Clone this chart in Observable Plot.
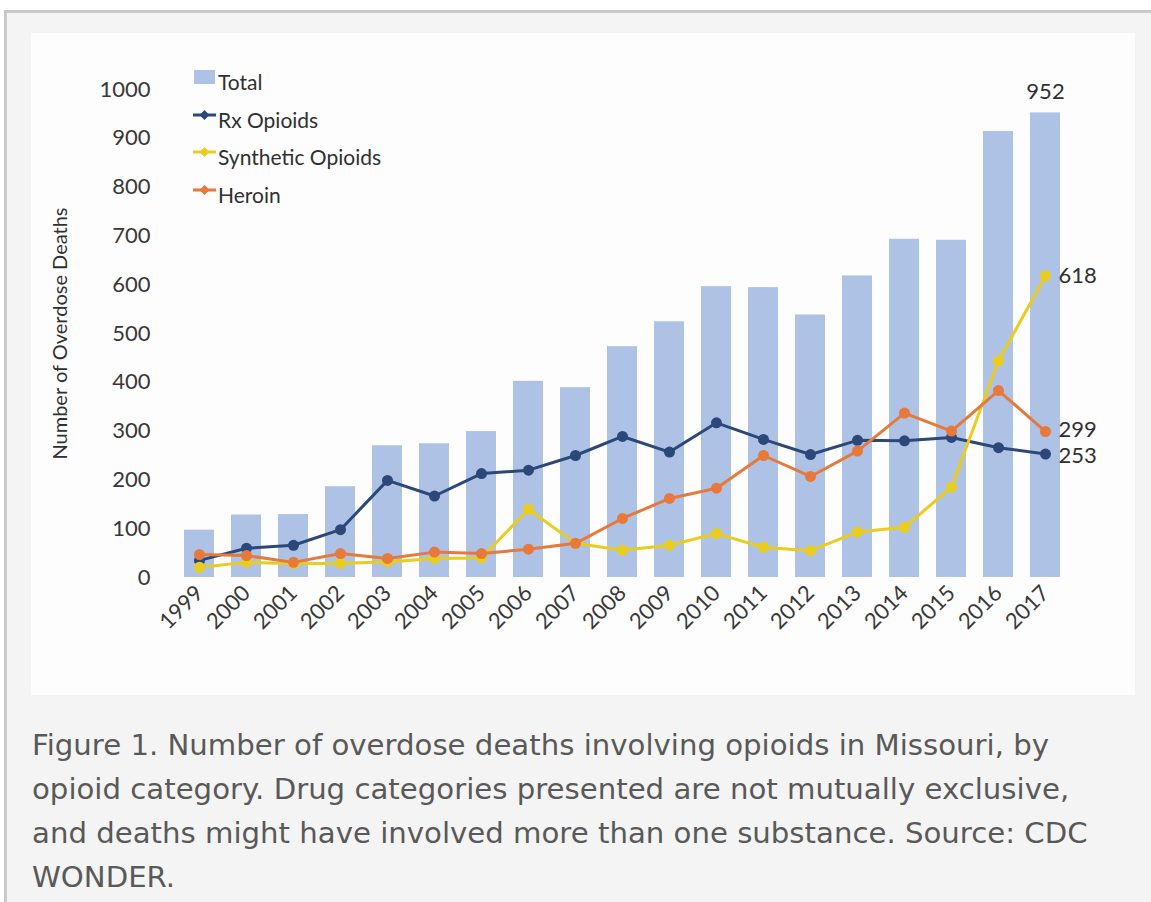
<!DOCTYPE html>
<html>
<head>
<meta charset="utf-8">
<script src="https://cdn.jsdelivr.net/npm/d3@7"></script>
<script src="https://cdn.jsdelivr.net/npm/@observablehq/plot@0.6"></script>
<style>
  html, body { margin: 0; padding: 0; background: #ffffff; width: 1151px; height: 902px; overflow: hidden; }
  #frame { position: absolute; left: 4px; top: 10px; width: 1200px; height: 1000px;
    border-top: 3px solid #c9c9c9; border-left: 3px solid #c9c9c9; background: #f4f4f4; }
  #panel { position: absolute; left: 31px; top: 33px; width: 1104px; height: 662px; background: #fdfdfd; }
  #panel svg { position: absolute; left: 0; top: 0; }
  #legend { position: absolute; left: 162px; top: 36px; font-family: Lato, "Open Sans", sans-serif; font-size: 21px; color: #303030; }
  .item { position: relative; height: 37.5px; line-height: 25px; padding-left: 25px; white-space: nowrap; }
  .item svg { position: absolute; left: 0; top: 5px; }
  #caption { position: absolute; left: 32px; top: 723px; font-family: "DejaVu Sans", sans-serif; font-size: 29.2px;
    line-height: 44px; color: #595959; white-space: nowrap; }
</style>
</head>
<body>
<div id="frame"></div>
<div id="panel"><div id="legend"></div></div>
<div id="caption">Figure 1. Number of overdose deaths involving opioids in Missouri, by<br>opioid category. Drug categories presented are not mutually exclusive,<br>and deaths might have involved more than one substance. Source: CDC<br>WONDER.</div>
<script>
const years = ["1999","2000","2001","2002","2003","2004","2005","2006","2007","2008","2009","2010","2011","2012","2013","2014","2015","2016","2017"];
const total = [97,128,129,186,270,274,299,402,389,473,524,596,594,538,618,693,691,914,952];
const rxOpioids = [35,60,66,98,199,167,213,220,250,289,257,317,283,252,281,280,287,266,253];
const syntheticOpioids = [21,31,28,29,32,39,40,140,70,56,66,90,62,55,93,103,185,444,618];
const heroin = [47,45,31,49,39,52,49,58,70,121,162,183,250,207,259,337,300,383,299];
const yTicks = [0,100,200,300,400,500,600,700,800,900,1000];
const seriesNames = ["Total","Rx Opioids","Synthetic Opioids","Heroin"];
const colors = {"Total":"#adc2e5","Rx Opioids":"#2c4878","Synthetic Opioids":"#e8cc1e","Heroin":"#e6793b"};
const yLabel = "Number of Overdose Deaths";

const totalData = years.map((y,i)=>({year:y, value: total[i]}));
const seriesData = (arr) => years.map((y,i)=>({year:y, value: arr[i]}));
const rxData = seriesData(rxOpioids);
const synData = seriesData(syntheticOpioids);
const herData = seriesData(heroin);
const lastOf = (d) => [d[d.length-1]];
const labelStyle = {x:"year", y:"value", text: d=>String(d.value), fill: "#303030", fontSize: 22};

const chart = Plot.plot({
  width: 1104, height: 662,
  marginTop: 56, marginBottom: 118, marginLeft: 138, marginRight: 60,
  style: {background: "transparent", fontFamily: "Lato, 'Open Sans', sans-serif", fontSize: "22px", color: "#383838"},
  x: {type: "band", domain: years, paddingInner: 0.36, paddingOuter: 0.3, tickRotate: -45, tickSize: 0, tickPadding: 12, label: null},
  y: {domain: [0, 1000], ticks: yTicks, tickFormat: d => String(d), tickSize: 0, tickPadding: 19, label: null},
  marks: [
    Plot.barY(totalData, {x: "year", y: "value", fill: colors["Total"]}),
    Plot.lineY(rxData, {x:"year", y:"value", stroke: colors["Rx Opioids"], strokeWidth: 3}),
    Plot.dot(rxData, {x:"year", y:"value", fill: colors["Rx Opioids"], r: 5.5}),
    Plot.lineY(synData, {x:"year", y:"value", stroke: colors["Synthetic Opioids"], strokeWidth: 3}),
    Plot.dot(synData, {x:"year", y:"value", fill: colors["Synthetic Opioids"], r: 5.5}),
    Plot.lineY(herData, {x:"year", y:"value", stroke: colors["Heroin"], strokeWidth: 3}),
    Plot.dot(herData, {x:"year", y:"value", fill: colors["Heroin"], r: 5.5}),
    Plot.text(lastOf(totalData), {...labelStyle, dy: -21}),
    Plot.text(lastOf(synData), {...labelStyle, textAnchor: "start", dx: 13, dy: 0}),
    Plot.text(lastOf(herData), {...labelStyle, textAnchor: "start", dx: 13, dy: -2}),
    Plot.text(lastOf(rxData), {...labelStyle, textAnchor: "start", dx: 13, dy: 2}),
    Plot.text([yLabel], {frameAnchor: "left", textAnchor: "middle", rotate: -90, dx: -109, fill: "#303030", fontSize: 20})
  ]
});
document.getElementById("panel").appendChild(chart);

// Legend built from the series names and colors
const legend = document.getElementById("legend");
seriesNames.forEach(name => {
  const item = document.createElement("div");
  item.className = "item";
  const ns = "http://www.w3.org/2000/svg";
  const s = document.createElementNS(ns, "svg");
  s.setAttribute("width", "24"); s.setAttribute("height", "16");
  if (name === "Total") {
    const r = document.createElementNS(ns, "rect");
    r.setAttribute("x","1"); r.setAttribute("y","1"); r.setAttribute("width","21"); r.setAttribute("height","14");
    r.setAttribute("fill", colors[name]); s.appendChild(r);
  } else {
    const l = document.createElementNS(ns, "line");
    l.setAttribute("x1","0"); l.setAttribute("x2","23"); l.setAttribute("y1","8"); l.setAttribute("y2","8");
    l.setAttribute("stroke", colors[name]); l.setAttribute("stroke-width","3"); s.appendChild(l);
    const p = document.createElementNS(ns, "path");
    p.setAttribute("d","M11.5,3 L16.5,8 L11.5,13 L6.5,8 Z");
    p.setAttribute("fill", colors[name]); s.appendChild(p);
  }
  item.appendChild(s);
  const t = document.createElement("span"); t.textContent = name;
  item.appendChild(t);
  legend.appendChild(item);
});
</script>
</body>
</html>
